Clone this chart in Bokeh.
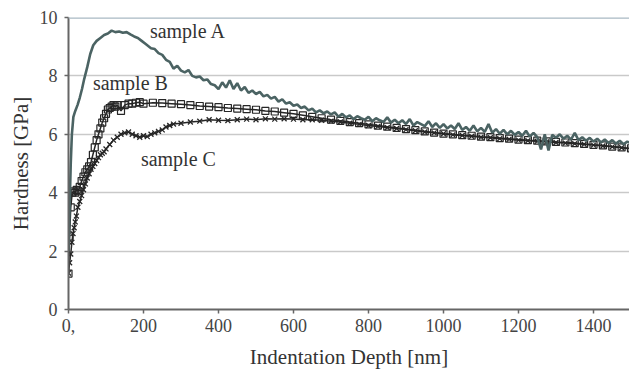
from bokeh.plotting import figure
from bokeh.models import Label, Span, Range1d, FixedTicker
from bokeh.embed import file_html
from bokeh.resources import INLINE

# ---------------- data ----------------
depth_a = [0, 3, 6, 9, 13, 18, 24, 30, 36, 42, 50, 58, 66, 75, 85, 95, 105, 115, 125, 135,
           145, 155, 165, 175, 185, 195, 205, 215,
           220, 230, 240, 250, 260, 270, 280, 290, 300, 310, 320, 330, 340, 350, 360, 370,
           380, 390, 400, 410, 420, 430, 440, 450, 460, 470, 480, 490, 500, 510, 520, 530,
           540, 550, 560, 570, 580, 590, 600, 610, 620, 630, 640, 650, 660, 670, 680, 690,
           700, 710, 720, 730, 740, 750, 760, 770, 780, 790, 800, 810, 820, 830, 840, 850,
           860, 870, 880, 890, 900, 910, 920, 930, 940, 950, 960, 970, 980, 990, 1000, 1010,
           1020, 1030, 1040, 1050, 1060, 1070, 1080, 1090, 1100, 1110, 1120, 1130, 1140, 1150,
           1160, 1170, 1180, 1190, 1200, 1210, 1220, 1230, 1240, 1250, 1260, 1270, 1280, 1290,
           1300, 1310, 1320, 1330, 1340, 1350, 1360, 1370, 1380, 1390, 1400, 1410, 1420, 1430,
           1440, 1450, 1460, 1470, 1480, 1490, 1500]
hard_a = [2.0, 3.5, 5.0, 6.0, 6.6, 6.8, 7.0, 7.25, 7.55, 7.9, 8.3, 8.75, 9.05, 9.2, 9.3, 9.4,
          9.45, 9.55, 9.5, 9.52, 9.48, 9.5, 9.42, 9.35, 9.3, 9.2, 9.1, 9.0,
          8.95, 8.92, 8.78, 8.72, 8.55, 8.48, 8.25, 8.35, 8.18, 8.12, 8.2, 8.0, 7.95, 7.98,
          7.85, 7.88, 7.72, 7.68, 7.55, 7.78, 7.6, 7.85, 7.55, 7.75, 7.5, 7.62, 7.42, 7.5,
          7.38, 7.45, 7.3, 7.35, 7.22, 7.28, 7.12, 7.2, 7.05, 7.1, 6.98, 7.02, 6.9, 6.95,
          6.82, 6.88, 6.75, 6.82, 6.72, 6.78, 6.68, 6.75, 6.6, 6.7, 6.58, 6.65, 6.52, 6.62,
          6.55, 6.5, 6.6, 6.45, 6.55, 6.48, 6.42, 6.58, 6.4, 6.5, 6.38, 6.48, 6.35, 6.52,
          6.3, 6.42, 6.35, 6.28, 6.45, 6.25, 6.38, 6.22, 6.35, 6.2, 6.3, 6.18, 6.38, 6.15,
          6.25, 6.12, 6.3, 6.1, 6.22, 6.08, 6.35, 6.05, 6.18, 6.02, 6.15, 6.0, 6.12, 5.98,
          6.08, 5.95, 6.12, 5.92, 6.05, 5.9, 5.48, 6.0, 5.45, 5.98, 5.88, 6.0, 5.85, 5.95,
          5.82, 6.05, 5.8, 5.9, 5.78, 5.88, 5.75, 5.85, 5.72, 5.82, 5.7, 5.8, 5.68, 5.78,
          5.66, 5.75, 5.7]

depth_b = [0, 3, 6, 10, 14, 18, 22, 26, 30, 35, 40, 45, 50, 55, 60, 65, 70, 75, 80, 85, 90,
           95, 100, 105, 110, 115, 120, 125, 130, 140, 150, 160, 170, 180, 190, 200,
           225, 250, 275, 300, 325, 350, 375, 400, 425, 450, 475, 500, 525, 550, 575, 600,
           625, 650, 675, 700, 725, 750, 775, 800, 825, 850, 875, 900, 925, 950, 975, 1000,
           1025, 1050, 1075, 1100, 1125, 1150, 1175, 1200, 1225, 1250, 1275, 1300, 1325,
           1350, 1375, 1400, 1425, 1450, 1475, 1500]
hard_b = [1.23, 2.5, 3.5, 4.0, 4.05, 4.0, 4.1, 4.05, 4.2, 4.4, 4.55, 4.7, 4.8, 4.9, 5.05, 5.3,
          5.55, 5.8, 6.0, 6.2, 6.4, 6.55, 6.7, 6.85, 6.9, 6.95, 7.0, 6.95, 7.0, 6.8, 7.0, 7.05,
          7.05, 7.08, 7.1, 7.05,
          7.08, 7.07, 7.05, 7.03, 7.0, 6.97, 6.95, 6.93, 6.9, 6.88, 6.86, 6.84, 6.8, 6.78,
          6.74, 6.7, 6.65, 6.6, 6.55, 6.5, 6.46, 6.42, 6.38, 6.34, 6.3, 6.26, 6.22, 6.18,
          6.14, 6.1, 6.06, 6.02, 6.0, 5.97, 5.95, 5.92, 5.9, 5.87, 5.85, 5.82, 5.8, 5.78,
          5.76, 5.74, 5.72, 5.7, 5.67, 5.64, 5.62, 5.58, 5.55, 5.52]

depth_c = [0, 3, 6, 9, 12, 15, 18, 21, 25, 30, 35, 40, 45, 50, 55, 60, 65, 70, 75, 80, 85,
           90, 95, 100, 110, 120, 130, 140, 150, 160, 170, 180, 190, 200, 210, 220, 230, 240,
           250, 260, 270, 280, 300, 325, 350, 375, 400, 425, 450, 475, 500, 525, 550, 575,
           600, 625, 650, 675, 700, 725, 750, 775, 800, 825, 850, 875, 900, 925, 950, 975,
           1000, 1025, 1050, 1075, 1100, 1125, 1150, 1175, 1200, 1225, 1250, 1275, 1300,
           1325, 1350, 1375, 1400, 1425, 1450, 1475, 1500]
hard_c = [1.25, 1.6, 1.9, 2.3, 2.6, 2.8, 3.0, 3.2, 3.5, 3.7, 3.9, 4.1, 4.3, 4.5, 4.65, 4.8,
          4.9, 5.0, 5.1, 5.2, 5.3, 5.35, 5.4, 5.5, 5.65, 5.8, 5.9, 6.0, 6.05, 6.08, 6.0, 5.95,
          5.9, 5.95, 5.92, 6.0, 6.05, 6.1, 6.15, 6.25, 6.3, 6.35, 6.38, 6.42, 6.45, 6.5, 6.48,
          6.47, 6.5, 6.52, 6.5, 6.53, 6.52, 6.53, 6.52, 6.5, 6.5, 6.48, 6.45, 6.42, 6.38,
          6.34, 6.3, 6.27, 6.23, 6.2, 6.16, 6.12, 6.08, 6.05, 6.02, 5.98, 5.96, 5.93, 5.9,
          5.88, 5.85, 5.83, 5.8, 5.78, 5.76, 5.74, 5.72, 5.7, 5.68, 5.66, 5.63, 5.6, 5.57,
          5.54, 5.5]

x_ticks = [0, 200, 400, 600, 800, 1000, 1200, 1400]
y_ticks = [0, 2, 4, 6, 8, 10]
series_labels = ["sample A", "sample B", "sample C"]

FONT = "Liberation Serif"

p = figure(width=629, height=372, output_backend="svg", toolbar_location=None,
           x_range=Range1d(0, 1496), y_range=Range1d(0, 10))
p.min_border_left = 68
p.min_border_top = 17
p.min_border_right = 0
p.min_border_bottom = 63
p.outline_line_color = None
p.background_fill_color = "white"
p.border_fill_color = "white"

# grid
p.xgrid.grid_line_color = None
p.ygrid.grid_line_color = "#c9c9c9"
p.ygrid.grid_line_width = 1.5
p.ygrid.ticker = FixedTicker(ticks=y_ticks)
p.add_layout(Span(location=10, dimension="width", line_color="#a9b9c3", line_width=2.5))

# axes
for ax in (p.xaxis[0], p.yaxis[0]):
    ax.axis_line_color = "#666666"
    ax.axis_line_width = 2
    ax.major_tick_line_color = "#666666"
    ax.major_tick_line_width = 1.5
    ax.major_tick_in = 0
    ax.major_tick_out = 4
    ax.minor_tick_line_color = None
    ax.major_label_text_font = FONT
    ax.major_label_text_font_size = "18px"
    ax.major_label_text_color = "#444444"
    ax.axis_label_text_font = FONT
    ax.axis_label_text_font_size = "21px"
    ax.axis_label_text_font_style = "normal"
    ax.axis_label_text_color = "#333333"

p.xaxis.ticker = FixedTicker(ticks=x_ticks)
p.yaxis.ticker = FixedTicker(ticks=y_ticks)
p.xaxis.major_label_overrides = {0: "0,"}
p.xaxis.axis_label = "Indentation Depth [nm]"
p.yaxis.axis_label = "Hardness [GPa]"
p.xaxis.major_label_standoff = 5
p.yaxis.major_label_standoff = 7
p.xaxis.axis_label_standoff = 10
p.yaxis.axis_label_standoff = 4

# series
p.line(depth_c, hard_c, line_color="#262626", line_width=1.5)
p.scatter(depth_c, hard_c, marker="x", size=7, line_color="#262626", line_width=1.3)
p.line(depth_b, hard_b, line_color="#262626", line_width=1.5)
p.scatter(depth_b, hard_b, marker="square", size=7, line_color="#262626", line_width=1.2,
          fill_alpha=0)
p.line(depth_a, hard_a, line_color="#4b6363", line_width=2.6)

# series labels
for txt, lx, ly in zip(series_labels, [217, 65, 193], [9.55, 7.75, 5.15]):
    p.add_layout(Label(x=lx, y=ly, text=txt, text_font=FONT, text_font_size="20px",
                       text_color="#333333", text_baseline="alphabetic"))

open("out.html", "w").write(file_html(p, INLINE))
